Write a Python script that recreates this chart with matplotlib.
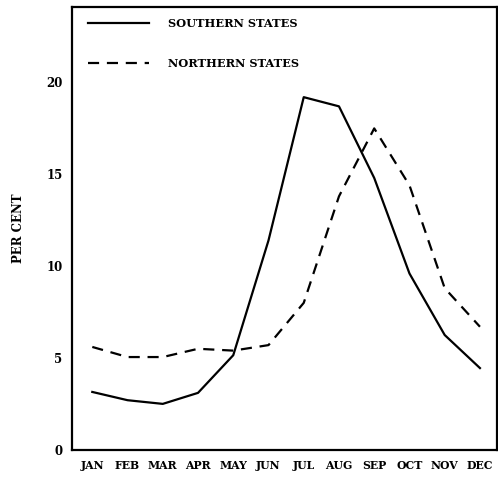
import matplotlib
matplotlib.use("Agg")
import matplotlib.pyplot as plt

# datos
meses = ["JAN", "FEB", "MAR", "APR", "MAY", "JUN", "JUL", "AUG", "SEP", "OCT", "NOV", "DEC"]
sur = [3.15, 2.7, 2.5, 3.1, 5.15, 11.4, 19.2, 18.7, 14.8, 9.6, 6.25, 4.45]
norte = [5.6, 5.05, 5.05, 5.5, 5.4, 5.7, 8.0, 13.8, 17.5, 14.4, 8.8, 6.7]
yticks = [0, 5, 10, 15, 20]

fuente = dict(family="DejaVu Serif", weight="bold", size=7.8)

fig = plt.figure(figsize=(4.98, 4.78), dpi=100)
ax = fig.add_axes([0.145, 0.059, 0.852, 0.926])

x = list(range(len(meses)))
ax.plot(x, sur, color="black", lw=1.6, label="SOUTHERN STATES")
ax.plot(x, norte, color="black", lw=1.6, dashes=(5, 3.5), label="NORTHERN STATES")

ax.set_xlim(-0.57, 11.47)
ax.set_ylim(0, 24.1)
ax.set_xticks(x)
ax.set_xticklabels(meses, fontdict=fuente)
ax.set_yticks(yticks)
ax.set_yticklabels([str(v) for v in yticks], fontdict=dict(fuente, size=8.5))
ax.tick_params(length=0, pad=7)
ax.set_ylabel("PER CENT", fontdict=dict(fuente, size=8.5), labelpad=15)

for s in ax.spines.values():
    s.set_linewidth(1.6)

leg = ax.legend(loc="upper left", frameon=False, prop=dict(fuente, size=8.2),
                handlelength=5.3, handletextpad=1.7, labelspacing=2.5,
                borderaxespad=0.0, bbox_to_anchor=(0.027, 0.985))

fig.savefig("out.png", dpi=100)
